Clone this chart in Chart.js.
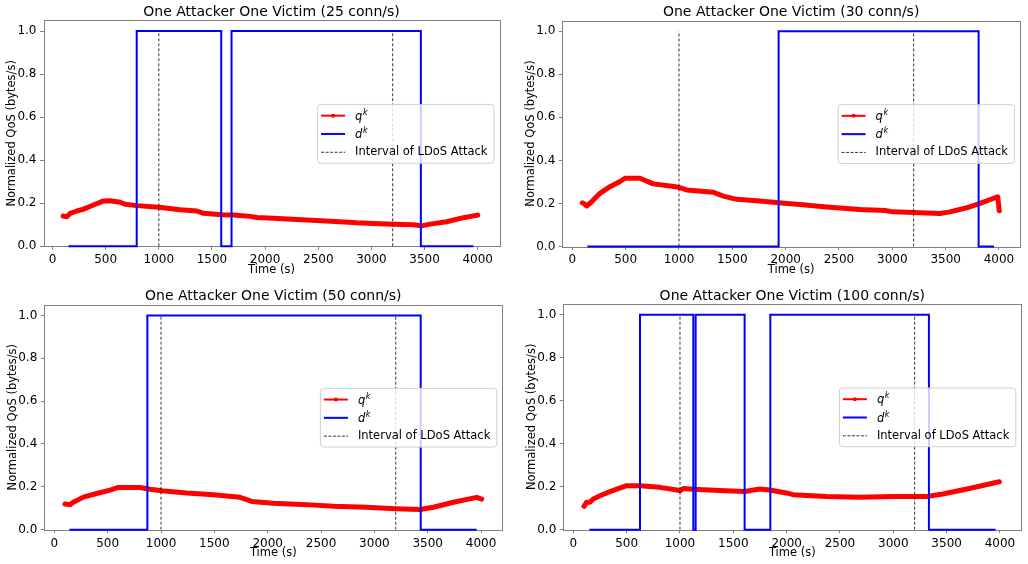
<!DOCTYPE html>
<html>
<head>
<meta charset="utf-8">
<script src="https://cdn.jsdelivr.net/npm/chart.js@4.4.1/dist/chart.umd.min.js"></script>
<style>
  html, body { margin: 0; padding: 0; background: #fff; }
  #wrap { position: relative; width: 1028px; height: 564px; }
  .panel { position: absolute; width: 514px; height: 282px; }
</style>
</head>
<body>
<div id="wrap">
  <div class="panel" style="left:0;top:0"><canvas id="c25" width="514" height="282"></canvas></div>
  <div class="panel" style="left:514px;top:0"><canvas id="c30" width="514" height="282"></canvas></div>
  <div class="panel" style="left:0;top:282px"><canvas id="c50" width="514" height="282"></canvas></div>
  <div class="panel" style="left:514px;top:282px"><canvas id="c100" width="514" height="282"></canvas></div>
</div>
<script>
// --- data ---
const xTicks = [0, 500, 1000, 1500, 2000, 2500, 3000, 3500, 4000];
const yTicks = [0, 0.2, 0.4, 0.6, 0.8, 1.0];
const attackInterval = [1000, 3200];
const legendLabels = ['q', 'd', 'Interval of LDoS Attack'];

// 25 conn/s
const qTime25 = [100, 135, 166, 229, 292, 386, 480, 542, 636, 683, 793, 1003, 1201, 1357, 1420, 1592, 1702, 1859, 1922, 2078, 2392, 2705, 2862, 3019, 3207, 3395, 3473, 3552, 3708, 3865, 4000];
const qos25 = [0.141, 0.137, 0.153, 0.164, 0.173, 0.192, 0.211, 0.212, 0.205, 0.195, 0.189, 0.181, 0.170, 0.164, 0.153, 0.147, 0.145, 0.139, 0.134, 0.130, 0.122, 0.114, 0.109, 0.106, 0.103, 0.100, 0.095, 0.103, 0.114, 0.133, 0.145];
const dTime25 = [150, 792, 1587, 1684, 3465, 3959];
const dState25 = [0, 1, 0, 1, 0, 0];

// 30 conn/s
const qTime30 = [94, 109, 134, 181, 259, 353, 447, 494, 634, 759, 916, 1000, 1072, 1322, 1416, 1541, 1759, 1931, 2134, 2384, 2697, 2931, 3009, 3197, 3447, 3541, 3697, 3822, 3988, 4003];
const qos30 = [0.203, 0.200, 0.188, 0.208, 0.247, 0.278, 0.302, 0.317, 0.317, 0.291, 0.281, 0.275, 0.263, 0.252, 0.234, 0.219, 0.211, 0.203, 0.195, 0.184, 0.172, 0.167, 0.161, 0.158, 0.153, 0.161, 0.180, 0.200, 0.231, 0.166];
const dTime30 = [141, 1934, 3809, 3953];
const dState30 = [0, 1, 0, 0];

// 50 conn/s
const qTime50 = [100, 147, 178, 272, 397, 522, 600, 803, 897, 1006, 1241, 1491, 1741, 1850, 2053, 2366, 2616, 2928, 3194, 3428, 3553, 3741, 3959, 4006];
const qos50 = [0.120, 0.117, 0.128, 0.152, 0.169, 0.185, 0.197, 0.197, 0.189, 0.182, 0.171, 0.163, 0.151, 0.132, 0.123, 0.117, 0.109, 0.105, 0.098, 0.094, 0.105, 0.128, 0.151, 0.143];
const dTime50 = [141, 872, 3434, 3959];
const dState50 = [0, 1, 0, 0];

// 100 conn/s
const qTime100 = [100, 125, 156, 187, 250, 343, 499, 624, 811, 1002, 1036, 1123, 1373, 1607, 1747, 1841, 1997, 2060, 2372, 2684, 2996, 3308, 3464, 3713, 3994];
const qos100 = [0.109, 0.128, 0.128, 0.143, 0.158, 0.177, 0.205, 0.205, 0.197, 0.182, 0.192, 0.188, 0.182, 0.178, 0.189, 0.185, 0.171, 0.163, 0.155, 0.151, 0.154, 0.154, 0.166, 0.192, 0.223];
const dTime100 = [150, 625, 1125, 1147, 1606, 1847, 3334, 3959];
const dState100 = [0, 1, 0, 1, 0, 1, 0, 0];

const FONT = '"DejaVu Sans", sans-serif';
const FRAME = '#808080';
Chart.defaults.font.family = FONT;
Chart.defaults.color = '#000';

const panels = [
  { id: 'c25', title: 'One Attacker One Victim (25 conn/s)', qt: qTime25, qv: qos25, dt: dTime25, dv: dState25,
    area: { l: 43.5, r: 499.5, t: 20.3, b: 246.3 }, titleY: 12.5, xMin: -85, xMax: 4205 },
  { id: 'c30', title: 'One Attacker One Victim (30 conn/s)', qt: qTime30, qv: qos30, dt: dTime30, dv: dState30,
    area: { l: 48.3, r: 506, t: 20.5, b: 246.5 }, titleY: 12.5, xMin: -94, xMax: 4197 },
  { id: 'c50', title: 'One Attacker One Victim (50 conn/s)', qt: qTime50, qv: qos50, dt: dTime50, dv: dState50,
    area: { l: 44.3, r: 502.3, t: 22.7, b: 247.7 }, titleY: 14.2, xMin: -94, xMax: 4199 },
  { id: 'c100', title: 'One Attacker One Victim (100 conn/s)', qt: qTime100, qv: qos100, dt: dTime100, dv: dState100,
    area: { l: 49.3, r: 507.3, t: 22, b: 247.7 }, titleY: 14.2, xMin: -94, xMax: 4200 },
];

function toPoints(xs, ys) {
  return xs.map((x, i) => ({ x, y: ys[i] }));
}

// axes frame, drawn under the lines like matplotlib's blue step over the spine
const framePlugin = {
  id: 'frame',
  beforeDatasetsDraw(chart) {
    const { ctx, chartArea: a } = chart;
    ctx.save();
    ctx.strokeStyle = FRAME;
    ctx.lineWidth = 1;
    ctx.strokeRect(Math.round(a.left) + 0.5, Math.round(a.top) + 0.5,
      Math.round(a.right) - Math.round(a.left), Math.round(a.bottom) - Math.round(a.top));
    ctx.restore();
  },
};

// matplotlib style legend, loc='center right'
const legendPlugin = {
  id: 'mplLegend',
  afterDatasetsDraw(chart) {
    const { ctx, chartArea: a } = chart;
    const fs = 11.5;
    ctx.save();
    ctx.font = `${fs}px ${FONT}`;
    const textW = ctx.measureText(legendLabels[2]).width;
    const w = 38 + textW + 6;
    const h = 58.7;
    const x = a.right - 6 - w;
    const y = (a.top + a.bottom) / 2 - h / 2;

    ctx.fillStyle = 'rgba(255,255,255,0.8)';
    ctx.strokeStyle = '#d0d0d0';
    ctx.lineWidth = 1;
    ctx.beginPath();
    ctx.roundRect(x + 0.5, y + 0.5, w, h, 3);
    ctx.fill();
    ctx.stroke();

    const rows = [y + 11.7, y + 30, y + 48.3];
    const x0 = x + 4, x1 = x + 28, tx = x + 38;

    // q^k
    ctx.strokeStyle = '#ff0000';
    ctx.lineWidth = 2;
    ctx.beginPath(); ctx.moveTo(x0, rows[0]); ctx.lineTo(x1, rows[0]); ctx.stroke();
    ctx.fillStyle = '#ff0000';
    ctx.beginPath(); ctx.arc((x0 + x1) / 2, rows[0], 2, 0, Math.PI * 2); ctx.fill();
    // d^k
    ctx.strokeStyle = '#0000ff';
    ctx.beginPath(); ctx.moveTo(x0, rows[1]); ctx.lineTo(x1, rows[1]); ctx.stroke();
    // dashed
    ctx.strokeStyle = 'rgba(0,0,0,0.8)';
    ctx.lineWidth = 1;
    ctx.setLineDash([3, 1.5]);
    ctx.beginPath(); ctx.moveTo(x0, rows[2]); ctx.lineTo(x1, rows[2]); ctx.stroke();
    ctx.setLineDash([]);

    ctx.fillStyle = '#000';
    ctx.textBaseline = 'alphabetic';
    for (let i = 0; i < 2; i++) {
      const base = rows[i] + 4;
      ctx.font = `italic ${fs}px ${FONT}`;
      ctx.fillText(legendLabels[i], tx, base);
      const cw = ctx.measureText(legendLabels[i]).width;
      ctx.font = `italic 8px ${FONT}`;
      ctx.fillText('k', tx + cw + 0.5, base - 5);
    }
    ctx.font = `${fs}px ${FONT}`;
    ctx.textBaseline = 'middle';
    ctx.fillText(legendLabels[2], tx, rows[2]);
    ctx.restore();
  },
};

function buildChart(p) {
  const H = 282, W = 514;
  const a = p.area;
  const datasets = [
    {
      label: 'q^k',
      data: toPoints(p.qt, p.qv),
      borderColor: '#ff0000',
      backgroundColor: '#ff0000',
      borderWidth: 5,
      borderCapStyle: 'round',
      borderJoinStyle: 'round',
      pointRadius: 0,
      order: 3,
    },
    {
      label: 'd^k',
      data: toPoints(p.dt, p.dv),
      borderColor: '#0000ff',
      borderWidth: 2,
      stepped: 'before',
      pointRadius: 0,
      clip: false,
      order: 2,
    },
  ];
  attackInterval.forEach((t, i) => {
    datasets.push({
      label: i === 0 ? 'Interval of LDoS Attack' : '',
      data: [{ x: t, y: 0 }, { x: t, y: 1 }],
      borderColor: 'rgba(0,0,0,0.8)',
      borderWidth: 1,
      borderDash: [3, 2],
      pointRadius: 0,
      order: 1,
    });
  });

  return new Chart(document.getElementById(p.id).getContext('2d'), {
    type: 'line',
    data: { datasets },
    plugins: [framePlugin, legendPlugin],
    options: {
      responsive: false,
      animation: false,
      layout: { padding: { left: 0, top: 0, bottom: 0, right: W - a.r } },
      plugins: {
        legend: { display: false },
        tooltip: { enabled: false },
        title: {
          display: true,
          text: p.title,
          fullSize: false,
          color: '#000',
          font: { size: 14, weight: 'normal', lineHeight: 1 },
          padding: { top: p.titleY - 7, bottom: a.t - p.titleY - 7 },
        },
      },
      scales: {
        x: {
          type: 'linear',
          min: p.xMin,
          max: p.xMax,
          afterBuildTicks: (s) => { s.ticks = xTicks.map((v) => ({ value: v })); },
          afterFit: (s) => { s.height = H - a.b; },
          border: { display: false },
          grid: { drawOnChartArea: false, color: FRAME, tickLength: 3.5 },
          ticks: { autoSkip: false, maxRotation: 0, padding: 3, font: { size: 12 }, callback: (v) => String(v) },
          title: { display: true, text: 'Time (s)', font: { size: 11.5 }, padding: { top: 0, bottom: H - a.b - 30.4 } },
        },
        y: {
          min: 0,
          max: 1.05,
          afterBuildTicks: (s) => { s.ticks = yTicks.map((v) => ({ value: v })); },
          afterFit: (s) => { s.width = a.l; },
          border: { display: false },
          grid: { drawOnChartArea: false, color: FRAME, tickLength: 3.5 },
          ticks: { autoSkip: false, padding: 3.5, font: { size: 12 }, callback: (v) => v.toFixed(1) },
          title: { display: true, text: 'Normalized QoS (bytes/s)', font: { size: 11.5 }, padding: { top: a.l - 38.2, bottom: 0 } },
        },
      },
    },
  });
}

panels.forEach(buildChart);
</script>
</body>
</html>
